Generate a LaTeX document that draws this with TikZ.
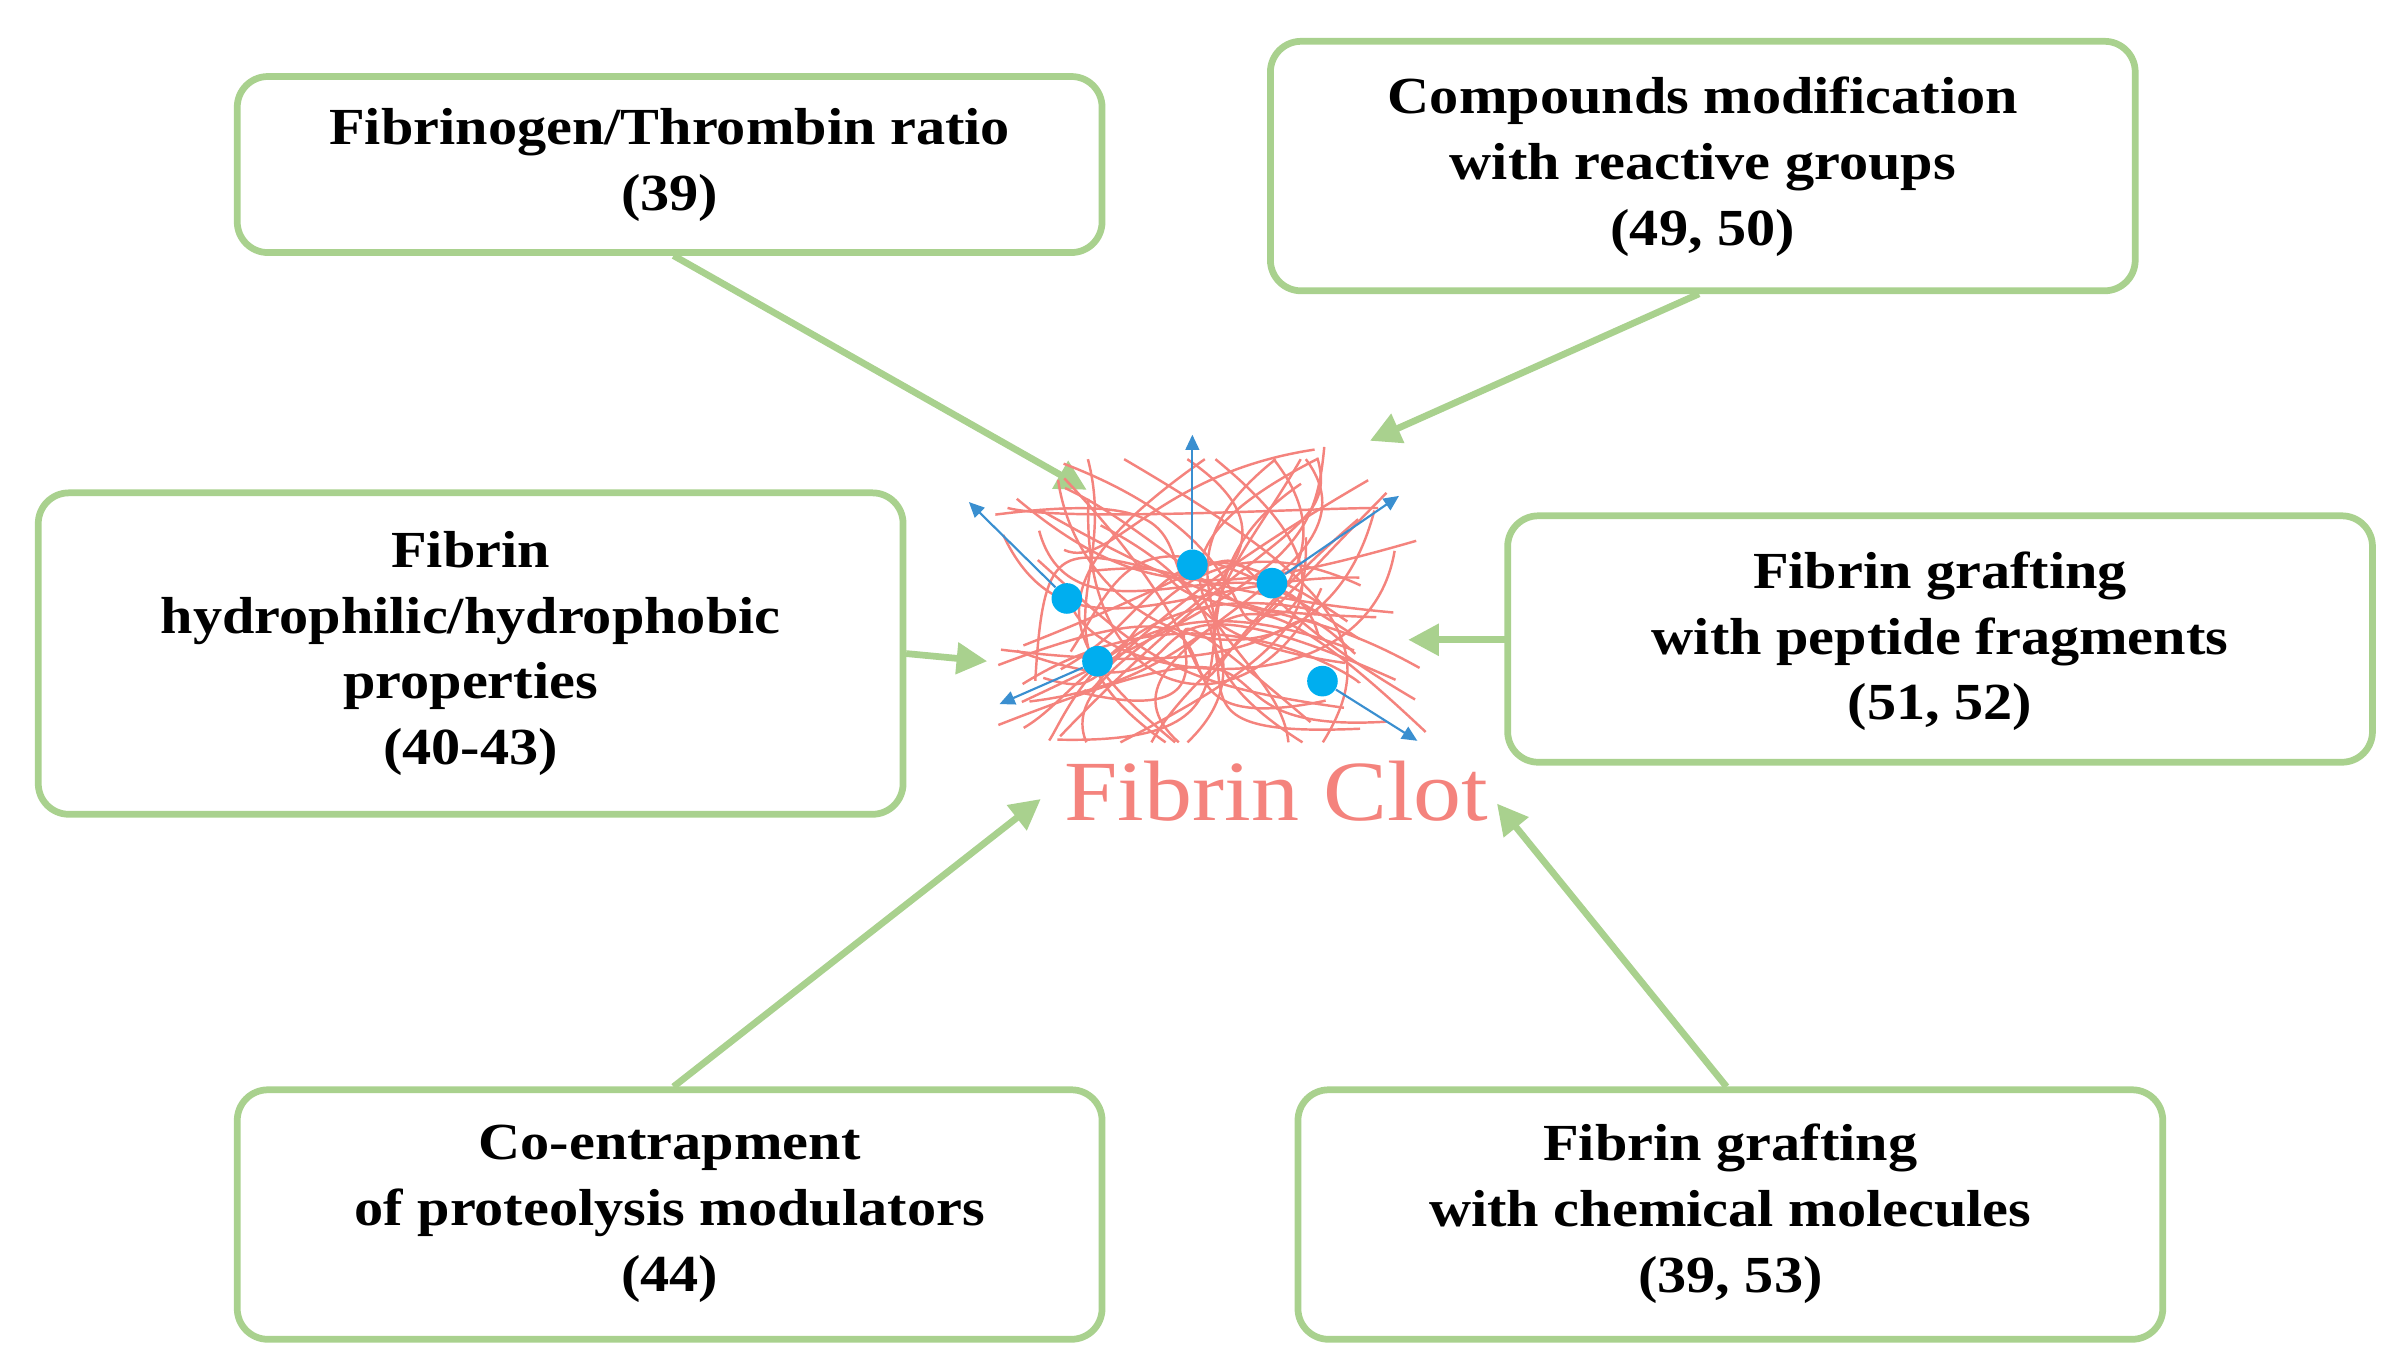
\documentclass[tikz,border=0pt]{standalone}
\usepackage{fontspec}
\setmainfont{Liberation Serif}[FakeStretch=1.12]
\usetikzlibrary{arrows.meta}
\definecolor{gbox}{HTML}{A9D18E}
\definecolor{clot}{HTML}{F4837D}
\definecolor{bline}{HTML}{3A8FD0}
\definecolor{bdot}{HTML}{00AEEF}
\begin{document}
\begin{tikzpicture}[x=0.5pt,y=-0.5pt,
  box/.style={draw=gbox,line width=2.2pt,rounded corners=10pt,fill=white},
  lbl/.style={font=\bfseries\fontsize{17}{21.5}\selectfont,align=center,text=black},
  garr/.style={draw=gbox,line width=2.2pt,-{Triangle[length=10pt,width=10pt]}},
  barr/.style={draw=bline,line width=0.7pt,-{Triangle[length=5pt,width=4.5pt]}},
  strand/.style={draw=clot,line width=0.8pt}]
\useasboundingbox (0,0) rectangle (1568,892);
% boxes
\draw[box] (155,50) rectangle (720,165);
\node[lbl] (b1) at (437.5,108) {Fibrinogen/Thrombin ratio\\(39)};
\draw[box] (830,27) rectangle (1395,190);
\node[lbl] (b2) at (1112.5,109) {Compounds modification\\with reactive groups\\(49, 50)};
\draw[box] (25,322) rectangle (590,532);
\node[lbl] (b3) at (307.5,427) {Fibrin\\hydrophilic/hydrophobic\\properties\\(40-43)};
\draw[box] (985,337) rectangle (1550,498);
\node[lbl] (b4) at (1267.5,419) {Fibrin grafting\\with peptide fragments\\(51, 52)};
\draw[box] (155,712) rectangle (720,875);
\node[lbl] (b5) at (437.5,793) {Co-entrapment\\of proteolysis modulators\\(44)};
\draw[box] (848,712) rectangle (1413,875);
\node[lbl] (b6) at (1130.5,793) {Fibrin grafting\\with chemical molecules\\(39, 53)};
% connector ends
\coordinate (t1) at (710,320);
\coordinate (t2) at (895,288);
\coordinate (t3) at (645,432);
\coordinate (t4) at (920,418);
\coordinate (t5) at (680,522);
\coordinate (t6) at (978,525);
\coordinate (s1) at (440,167);
\coordinate (s2) at (1110,192);
\coordinate (s3) at (592,427);
\coordinate (s4) at (984,418);
\coordinate (s5) at (440,710);
\coordinate (s6) at (1128,710);
\foreach \i in {1,...,6} {\draw[garr] (s\i) -- (t\i);}
% mesh
\pgfmathsetseed{7}
\foreach \i in {1,...,34} {
  \pgfmathsetmacro{\xa}{650+70*rnd}
  \pgfmathsetmacro{\ya}{300+190*rnd}
  \pgfmathsetmacro{\xb}{850+85*rnd}
  \pgfmathsetmacro{\yb}{290+200*rnd}
  \pgfmathsetmacro{\xc}{680+220*rnd}
  \pgfmathsetmacro{\yc}{300+190*rnd}
  \pgfmathsetmacro{\xd}{680+220*rnd}
  \pgfmathsetmacro{\yd}{300+190*rnd}
  \draw[strand] (\xa,\ya) .. controls (\xc,\yc) and (\xd,\yd) .. (\xb,\yb);
}
\foreach \i in {1,...,10} {
  \pgfmathsetmacro{\xa}{700+180*rnd}
  \pgfmathsetmacro{\xb}{700+180*rnd}
  \pgfmathsetmacro{\xc}{660+260*rnd}
  \pgfmathsetmacro{\xd}{660+260*rnd}
  \draw[strand] (\xa,300) .. controls (\xc,380) and (\xd,420) .. (\xb,485);
}
% particles
\node[circle,fill=bdot,inner sep=0pt,minimum size=10pt] (d1) at (697,391) {};
\node[circle,fill=bdot,inner sep=0pt,minimum size=10pt] (d2) at (779,369) {};
\node[circle,fill=bdot,inner sep=0pt,minimum size=10pt] (d3) at (831,381) {};
\node[circle,fill=bdot,inner sep=0pt,minimum size=10pt] (d4) at (717,432) {};
\node[circle,fill=bdot,inner sep=0pt,minimum size=10pt] (d5) at (864,445) {};
\coordinate (e1) at (633,328);
\coordinate (e2) at (779,284);
\coordinate (e3) at (914,324);
\coordinate (e4) at (653,460);
\coordinate (e5) at (926,484);
\foreach \i in {1,...,5} {\draw[barr] (d\i) -- (e\i);}
\node[text=clot,font=\fontsize{28}{32}\selectfont] (fc) at (834,517) {Fibrin Clot};
\end{tikzpicture}
\end{document}
